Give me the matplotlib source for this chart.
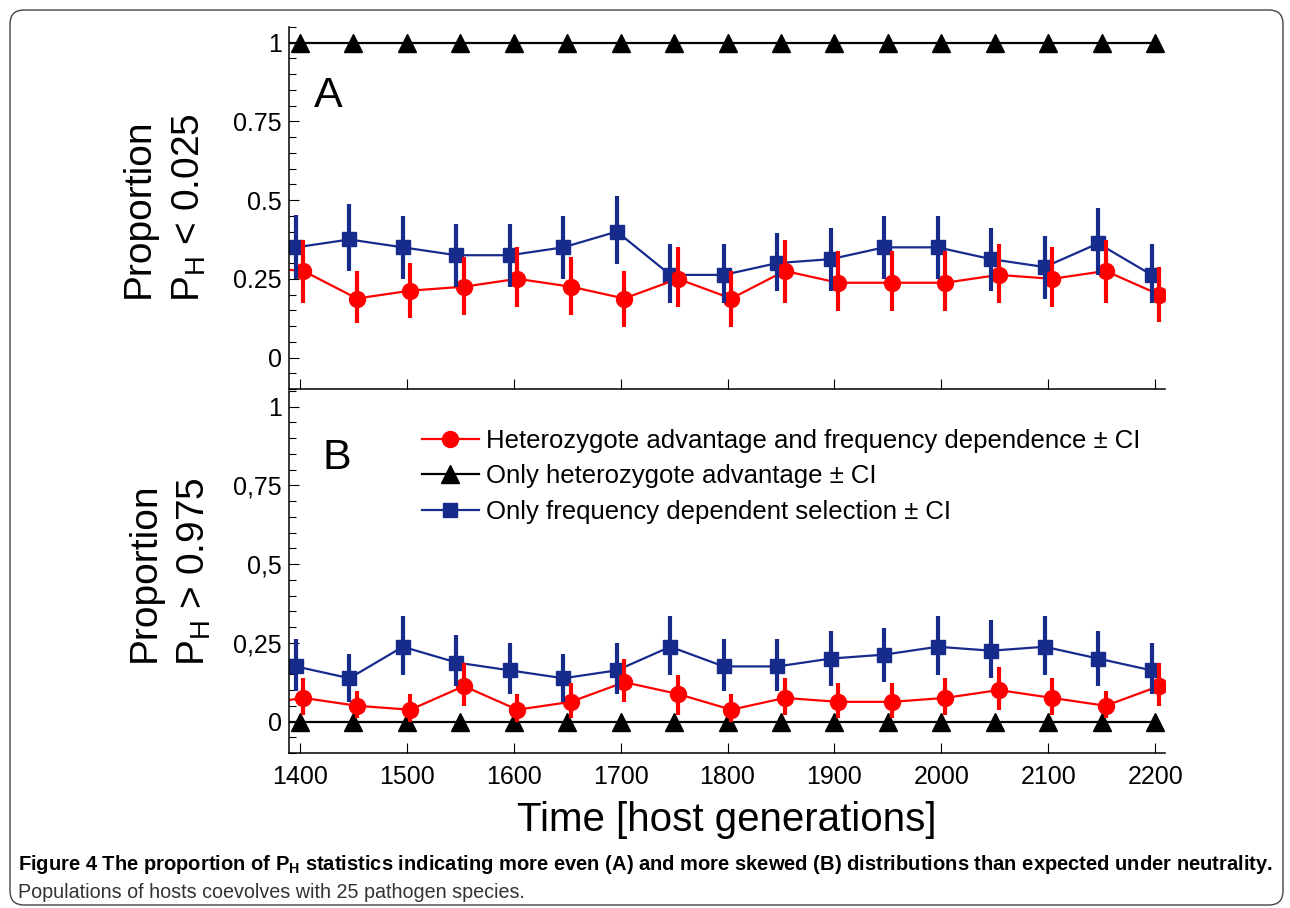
import numpy as np
import matplotlib
matplotlib.use("Agg")
import matplotlib.pyplot as plt
import matplotlib.patches as mpatches
from matplotlib.ticker import MultipleLocator, FixedLocator, FixedFormatter

# ------------------- DATA ------------------- #
# time 1350 lies just left of the axis, it only shows as the line entering the plot
times = [1350, 1400, 1450, 1500, 1550, 1600, 1650, 1700, 1750, 1800,
         1850, 1900, 1950, 2000, 2050, 2100, 2150, 2200]

# panel A : proportion P_H < 0.025
red_a = [0.2875, 0.275, 0.1875, 0.2125, 0.225, 0.25, 0.225, 0.1875, 0.25,
         0.1875, 0.275, 0.2375, 0.2375, 0.2375, 0.2625, 0.25, 0.275, 0.2]
red_a_lo = [0.185, 0.173, 0.109, 0.125, 0.134, 0.160, 0.134, 0.097, 0.160,
            0.097, 0.173, 0.147, 0.147, 0.147, 0.173, 0.160, 0.173, 0.112]
red_a_hi = [0.385, 0.373, 0.275, 0.300, 0.318, 0.351, 0.318, 0.275, 0.351,
            0.275, 0.373, 0.338, 0.338, 0.338, 0.360, 0.351, 0.373, 0.286]
blue_a = [0.35, 0.35, 0.375, 0.35, 0.325, 0.325, 0.35, 0.4, 0.2625,
          0.2625, 0.3, 0.3125, 0.35, 0.35, 0.3125, 0.2875, 0.3625, 0.2625]
blue_a_lo = [0.25, 0.25, 0.275, 0.25, 0.224, 0.224, 0.25, 0.298, 0.173,
             0.173, 0.211, 0.211, 0.248, 0.248, 0.211, 0.187, 0.261, 0.173]
blue_a_hi = [0.449, 0.452, 0.487, 0.449, 0.424, 0.424, 0.449, 0.513, 0.36,
             0.36, 0.397, 0.41, 0.449, 0.449, 0.41, 0.385, 0.474, 0.36]
black_a = [1.0] * len(times)

# panel B : proportion P_H > 0.975
red_b = [0.05, 0.075, 0.05, 0.0375, 0.1125, 0.0375, 0.0625, 0.125, 0.0875,
         0.0375, 0.075, 0.0625, 0.0625, 0.075, 0.1, 0.075, 0.05, 0.1125]
red_b_lo = [0.012, 0.022, 0.012, 0.0, 0.049, 0.0, 0.012, 0.061, 0.022,
            0.0, 0.022, 0.012, 0.012, 0.022, 0.036, 0.022, 0.012, 0.049]
red_b_hi = [0.098, 0.137, 0.098, 0.086, 0.186, 0.086, 0.123, 0.199, 0.149,
            0.086, 0.137, 0.123, 0.123, 0.137, 0.174, 0.137, 0.098, 0.186]
blue_b = [0.175, 0.175, 0.1375, 0.2375, 0.1875, 0.1625, 0.1375, 0.1625, 0.2375,
          0.175, 0.175, 0.2, 0.2125, 0.2375, 0.225, 0.2375, 0.2, 0.1625]
blue_b_lo = [0.098, 0.098, 0.061, 0.147, 0.112, 0.088, 0.061, 0.088, 0.147,
             0.098, 0.098, 0.112, 0.125, 0.147, 0.137, 0.147, 0.112, 0.088]
blue_b_hi = [0.262, 0.262, 0.213, 0.336, 0.276, 0.25, 0.213, 0.25, 0.336,
             0.262, 0.262, 0.287, 0.297, 0.336, 0.324, 0.336, 0.287, 0.25]
black_b = [0.0] * len(times)

ytick_vals = [0, 0.25, 0.5, 0.75, 1]
ytick_a = ["0", "0.25", "0.5", "0.75", "1"]
ytick_b = ["0", "0,25", "0,5", "0,75", "1"]
xtick_vals = [1400, 1500, 1600, 1700, 1800, 1900, 2000, 2100, 2200]

labels = ["Heterozygote advantage and frequency dependence \u00b1 CI",
          "Only heterozygote advantage \u00b1 CI",
          "Only frequency dependent selection \u00b1 CI"]

# ------------------- STYLE ------------------- #
plt.rcParams['font.family'] = ['Liberation Sans', 'DejaVu Sans']
plt.rcParams['mathtext.default'] = 'regular'

RED = "#ff0000"
BLUE = "#162b8c"
SHIFT = 3.5  # red / blue points are nudged apart in time

fig = plt.figure(figsize=(12.9, 9.08), dpi=100)
W, H = 1290.0, 908.0
ax_a = fig.add_axes([289 / W, 1 - 389 / H, 876 / W, 362 / H])
ax_b = fig.add_axes([289 / W, 1 - 753 / H, 876 / W, 362 / H])


def draw_panel(ax, red, rlo, rhi, blue, blo, bhi, black):
    t = np.array(times, dtype=float)
    red, rlo, rhi = np.array(red), np.array(rlo), np.array(rhi)
    blue, blo, bhi = np.array(blue), np.array(blo), np.array(bhi)
    ax.plot(t, black, color="black", lw=1.6, marker="^", ms=13, zorder=2,
            label=labels[1])
    ax.plot(t - SHIFT, blue, color=BLUE, lw=1.6, marker="s", ms=9.5, zorder=2,
            label=labels[2])
    ax.plot(t + SHIFT, red, color=RED, lw=1.6, marker="o", ms=11.5, zorder=2.1,
            label=labels[0])
    ax.errorbar(t + SHIFT, red, yerr=[red - rlo, rhi - red], fmt="none",
                ecolor=RED, elinewidth=3, capsize=0, zorder=3)
    ax.errorbar(t - SHIFT, blue, yerr=[blue - blo, bhi - blue], fmt="none",
                ecolor=BLUE, elinewidth=3, capsize=0, zorder=3)

    ax.set_xlim(1390, 2209)
    ax.set_ylim(-0.1, 1.05)
    for side in ("top", "right"):
        ax.spines[side].set_visible(False)
    for side in ("left", "bottom"):
        ax.spines[side].set_linewidth(1.1)
    ax.xaxis.set_major_locator(FixedLocator(xtick_vals))
    ax.yaxis.set_major_locator(FixedLocator(ytick_vals))
    ax.yaxis.set_minor_locator(MultipleLocator(0.05))
    ax.tick_params(which="major", direction="in", length=7, width=0.8,
                   labelsize=18, pad=5)
    ax.tick_params(which="minor", direction="in", length=5, width=0.8)
    ax.tick_params(axis="x", which="major", pad=9)
    ax.patch.set_alpha(0)


draw_panel(ax_a, red_a, red_a_lo, red_a_hi, blue_a, blue_a_lo, blue_a_hi, black_a)
draw_panel(ax_b, red_b, red_b_lo, red_b_hi, blue_b, blue_b_lo, blue_b_hi, black_b)

ax_a.yaxis.set_major_formatter(FixedFormatter(ytick_a))
ax_b.yaxis.set_major_formatter(FixedFormatter(ytick_b))
ax_a.tick_params(axis="x", labelbottom=False)

ax_a.set_ylabel("Proportion\n$P_H$ < 0.025", fontsize=28, linespacing=1.45)
ax_b.set_ylabel("Proportion\n$P_H$ > 0.975", fontsize=28, linespacing=1.45)
ax_a.yaxis.set_label_coords(-0.093, 0.5)
ax_b.yaxis.set_label_coords(-0.087, 0.5)

ax_b.set_xlabel("Time [host generations]", fontsize=29, labelpad=8)

ax_a.text(0.029, 0.779, "A", transform=ax_a.transAxes, fontsize=31)
ax_b.text(0.038, 0.785, "B", transform=ax_b.transAxes, fontsize=31)

h, l = ax_b.get_legend_handles_labels()
order = [2, 0, 1]
ax_b.legend([h[i] for i in order], [l[i] for i in order],
            loc="upper left", bbox_to_anchor=(0.152, 0.896), frameon=False,
            fontsize=18.5, markerscale=1.0, handlelength=2.2,
            handletextpad=0.28, labelspacing=0.45, borderpad=0, borderaxespad=0)

# ------------------- CAPTION & PAGE FRAME ------------------- #
cap_font = ['Liberation Sans', 'DejaVu Sans']
fig.text(18 / W, 1 - 865 / H,
         "Figure 4 The proportion of $P_H$ statistics indicating more even (A) "
         "and more skewed (B) distributions than expected under neutrality.",
         family=cap_font, fontweight="bold", fontsize=14.5, va="center")
fig.text(18 / W, 1 - 892 / H,
         "Populations of hosts coevolves with 25 pathogen species.",
         family=cap_font, fontsize=14.2, va="center", color="#333333")

frame = mpatches.FancyBboxPatch((10, 3), 1273, 895,
                                boxstyle="round,pad=0,rounding_size=14",
                                transform=None, fill=False, lw=1.0,
                                edgecolor="#444444")
fig.patches.append(frame)

fig.savefig("out.png", dpi=100)
